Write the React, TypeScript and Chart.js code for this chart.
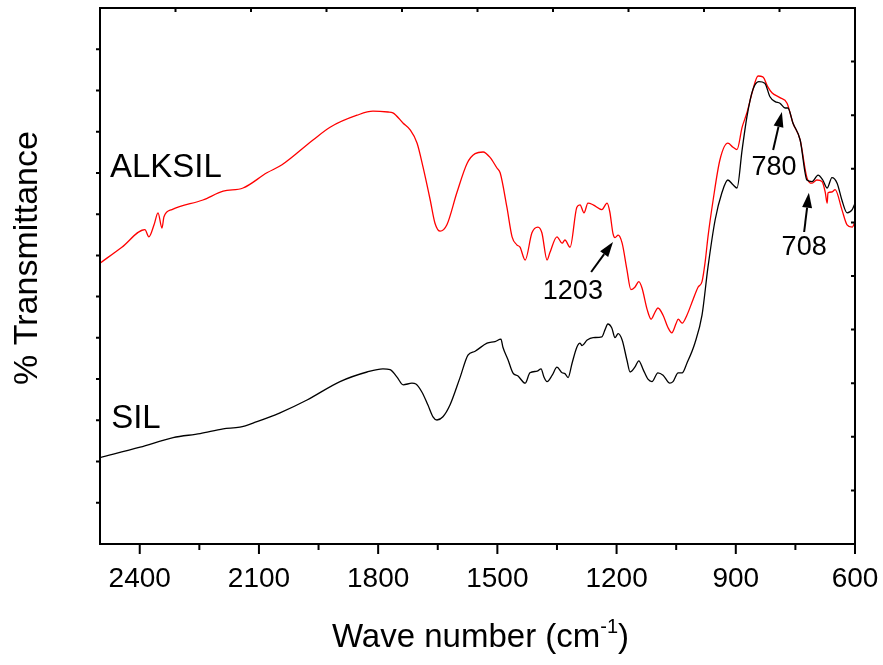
import React, { useEffect, useRef } from "react";
import { Chart, registerables } from "chart.js";

Chart.register(...registerables);

// ---- data (wave number in cm^-1, transmittance in arbitrary % units) ----
const wnAlksil = [2500, 2445, 2387, 2377, 2364, 2354, 2344, 2339, 2319, 2241, 2190, 2140, 2080, 2042, 1964, 1921, 1853, 1813, 1775, 1763, 1737, 1720, 1702, 1687, 1669, 1657, 1644, 1627, 1602, 1576, 1556, 1536, 1518, 1501, 1493, 1476, 1463, 1451, 1443, 1430, 1413, 1398, 1388, 1375, 1368, 1350, 1337, 1330, 1317, 1300, 1292, 1282, 1272, 1259, 1237, 1224, 1217, 1209, 1204, 1196, 1186, 1174, 1164, 1154, 1144, 1136, 1123, 1113, 1103, 1096, 1083, 1071, 1061, 1050, 1045, 1035, 1023, 1008, 995, 985, 977, 970, 957, 940, 920, 907, 897, 884, 872, 859, 844, 832, 819, 809, 789, 771, 756, 738, 721, 708, 696, 683, 675, 670, 668, 658, 650, 633, 620, 607, 600];
const tAlksil = [55.1, 57.1, 59.3, 58.4, 59.9, 61.4, 59.5, 60.9, 61.8, 63.0, 64.1, 64.5, 66.4, 67.4, 70.5, 72.1, 73.6, 74.1, 74.0, 73.9, 72.6, 71.8, 70.1, 67.1, 63.0, 60.1, 59.1, 59.9, 63.9, 67.6, 68.8, 69.0, 68.3, 67.0, 66.4, 62.1, 58.4, 57.4, 57.1, 55.5, 58.9, 59.6, 58.9, 55.5, 56.4, 58.4, 57.6, 58.0, 57.1, 62.1, 62.4, 61.4, 62.6, 62.4, 61.8, 62.6, 61.5, 58.8, 58.3, 58.6, 57.6, 54.3, 51.8, 52.1, 52.8, 52.0, 49.3, 48.1, 49.0, 49.5, 48.6, 47.1, 46.4, 47.6, 48.1, 47.6, 48.6, 50.5, 52.1, 52.8, 55.3, 58.4, 63.0, 68.0, 70.1, 69.6, 69.3, 72.1, 73.9, 76.4, 78.5, 78.4, 77.1, 76.4, 75.8, 75.1, 72.6, 70.5, 65.8, 65.1, 65.5, 65.3, 64.0, 62.6, 63.9, 64.0, 64.3, 61.8, 59.9, 59.6, 60.3];

const wnSil = [2500, 2399, 2316, 2248, 2190, 2148, 2105, 2047, 1979, 1896, 1828, 1788, 1770, 1753, 1737, 1715, 1705, 1690, 1675, 1662, 1652, 1637, 1619, 1594, 1574, 1556, 1526, 1506, 1491, 1486, 1473, 1461, 1448, 1430, 1418, 1400, 1390, 1383, 1375, 1362, 1350, 1337, 1330, 1322, 1312, 1300, 1292, 1287, 1274, 1259, 1237, 1229, 1222, 1212, 1204, 1196, 1186, 1174, 1166, 1154, 1144, 1133, 1121, 1111, 1096, 1083, 1066, 1058, 1045, 1035, 1023, 1003, 985, 970, 952, 935, 920, 907, 897, 884, 872, 857, 842, 827, 814, 801, 789, 776, 769, 756, 738, 721, 708, 693, 681, 670, 658, 645, 633, 620, 607, 600];
const tSil = [30.8, 32.1, 33.3, 33.8, 34.4, 34.6, 35.3, 36.4, 38.0, 40.3, 41.5, 41.9, 41.8, 40.9, 39.9, 40.1, 40.0, 39.0, 37.4, 35.9, 35.5, 35.9, 37.4, 40.8, 43.6, 44.1, 45.1, 45.3, 45.6, 44.6, 43.0, 41.4, 41.0, 40.1, 41.4, 41.6, 41.9, 40.9, 40.3, 41.1, 42.1, 41.4, 41.3, 40.8, 42.6, 44.6, 45.1, 44.8, 45.5, 45.8, 45.9, 46.8, 47.5, 47.0, 45.8, 46.3, 45.5, 43.0, 41.5, 42.1, 42.9, 41.8, 40.6, 40.3, 41.4, 41.1, 40.1, 40.3, 41.4, 41.4, 42.6, 45.1, 48.6, 54.6, 60.5, 63.9, 65.5, 64.9, 64.5, 69.3, 73.4, 76.8, 77.8, 77.6, 75.9, 75.3, 75.1, 74.5, 74.5, 72.6, 70.5, 65.5, 65.3, 66.1, 65.5, 64.5, 65.8, 65.1, 63.0, 61.4, 61.8, 62.6];

const xTickLabels = [2400, 2100, 1800, 1500, 1200, 900, 600];

// series name labels
const seriesNames = ["ALKSIL", "SIL"];
const seriesNameWn = [2475, 2472];
const seriesNameT = [67.0, 35.6];

// peak annotations with arrows
const peakLabels = ["1203", "780", "708"];
const peakLabelWn = [1310, 804, 728];
const peakLabelT = [51.6, 67.0, 57.0];
const arrowTailWn = [1264, 806, 728];
const arrowTailT = [54.0, 69.25, 59.0];
const arrowHeadWn = [1209, 784, 716];
const arrowHeadT = [57.75, 74.0, 63.9];

const FONT = '"Liberation Sans", Arial, sans-serif';

const decorPlugin = {
  id: "decor",
  afterDraw(chart: any) {
    const { ctx, chartArea: a, scales } = chart;
    const x = scales.x;
    const y = scales.y;
    ctx.save();
    // frame
    ctx.strokeStyle = "#000";
    ctx.lineWidth = 2;
    ctx.strokeRect(a.left, a.top, a.right - a.left, a.bottom - a.top);
    // ticks
    ctx.beginPath();
    for (const t of x.ticks) {
      const px = x.getPixelForValue(t.value);
      const len = xTickLabels.includes(t.value) ? 10 : 6;
      ctx.moveTo(px, a.bottom);
      ctx.lineTo(px, a.bottom + len);
    }
    for (let i = 1; i < 13; i++) {
      const py = y.getPixelForValue(y.min + (i * (y.max - y.min)) / 13);
      ctx.moveTo(a.left, py);
      ctx.lineTo(a.left - 4, py);
    }
    for (let i = 1; i < 10; i++) {
      const py = y.getPixelForValue(y.min + (i * (y.max - y.min)) / 10);
      ctx.moveTo(a.right, py);
      ctx.lineTo(a.right - 4, py);
    }
    for (let i = 1; i < 10; i++) {
      const px = a.left + (i * (a.right - a.left)) / 10;
      ctx.moveTo(px, a.top);
      ctx.lineTo(px, a.top + 4);
    }
    ctx.stroke();

    // series names
    ctx.fillStyle = "#000";
    ctx.font = `33px ${FONT}`;
    ctx.textAlign = "left";
    ctx.textBaseline = "middle";
    seriesNames.forEach((s, i) => {
      ctx.fillText(s, x.getPixelForValue(seriesNameWn[i]), y.getPixelForValue(seriesNameT[i]));
    });

    // peak labels
    ctx.font = `27px ${FONT}`;
    ctx.textAlign = "center";
    peakLabels.forEach((s, i) => {
      ctx.fillText(s, x.getPixelForValue(peakLabelWn[i]), y.getPixelForValue(peakLabelT[i]));
    });

    // arrows
    peakLabels.forEach((_, i) => {
      const tx = x.getPixelForValue(arrowTailWn[i]);
      const ty = y.getPixelForValue(arrowTailT[i]);
      const hx = x.getPixelForValue(arrowHeadWn[i]);
      const hy = y.getPixelForValue(arrowHeadT[i]);
      const ang = Math.atan2(hy - ty, hx - tx);
      const hl = 15;
      const hw = 5;
      const bx = hx - hl * Math.cos(ang);
      const by = hy - hl * Math.sin(ang);
      ctx.lineWidth = 2;
      ctx.beginPath();
      ctx.moveTo(tx, ty);
      ctx.lineTo(bx, by);
      ctx.stroke();
      ctx.beginPath();
      ctx.moveTo(hx, hy);
      ctx.lineTo(bx + hw * Math.sin(ang), by - hw * Math.cos(ang));
      ctx.lineTo(bx - hw * Math.sin(ang), by + hw * Math.cos(ang));
      ctx.closePath();
      ctx.fill();
    });

    // y title
    ctx.save();
    ctx.translate(28, 258);
    ctx.rotate(-Math.PI / 2);
    ctx.font = `34px ${FONT}`;
    ctx.textAlign = "center";
    ctx.textBaseline = "middle";
    ctx.fillText("% Transmittance", 0, 0);
    ctx.restore();

    // x title with superscript
    const cx = (a.left + a.right) / 2 + 3;
    const base = 647;
    ctx.textBaseline = "alphabetic";
    ctx.textAlign = "left";
    ctx.font = `33px ${FONT}`;
    const p1 = "Wave number (cm";
    const p3 = ")";
    const w1 = ctx.measureText(p1).width;
    const w3 = ctx.measureText(p3).width;
    ctx.font = `20px ${FONT}`;
    const p2 = "-1";
    const w2 = ctx.measureText(p2).width;
    let sx = cx - (w1 + w2 + w3) / 2;
    ctx.font = `33px ${FONT}`;
    ctx.fillText(p1, sx, base);
    sx += w1;
    ctx.font = `20px ${FONT}`;
    ctx.fillText(p2, sx, base - 14);
    sx += w2;
    ctx.font = `33px ${FONT}`;
    ctx.fillText(p3, sx, base);
    ctx.restore();
  },
};

export default function App() {
  const ref = useRef<HTMLCanvasElement>(null);
  useEffect(() => {
    const chart = new Chart(ref.current as HTMLCanvasElement, {
      type: "line",
      data: {
        datasets: [
          {
            label: "SIL",
            data: wnSil.map((w, i) => ({ x: w, y: tSil[i] })),
            borderColor: "#000000",
            borderWidth: 1.3,
            pointRadius: 0,
            cubicInterpolationMode: "monotone",
            fill: false,
          },
          {
            label: "ALKSIL",
            data: wnAlksil.map((w, i) => ({ x: w, y: tAlksil[i] })),
            borderColor: "#ff0000",
            borderWidth: 1.3,
            pointRadius: 0,
            cubicInterpolationMode: "monotone",
            fill: false,
          },
        ],
      },
      options: {
        animation: false,
        responsive: false,
        devicePixelRatio: 1,
        layout: { padding: { top: 8, right: 28, left: 0, bottom: 0 } },
        plugins: { legend: { display: false }, tooltip: { enabled: false } },
        scales: {
          x: {
            type: "linear",
            reverse: true,
            min: 600,
            max: 2500,
            grid: { display: false, drawTicks: false },
            border: { display: false },
            ticks: {
              stepSize: 150,
              includeBounds: false,
              autoSkip: false,
              maxRotation: 0,
              padding: 18,
              color: "#000",
              font: { family: FONT, size: 28 },
              callback: (v: any) => (xTickLabels.includes(Number(v)) ? String(v) : ""),
            },
            afterFit: (s: any) => {
              s.height = 121;
              s.paddingLeft = 0;
              s.paddingRight = 0;
              s.paddingTop = 0;
              s.paddingBottom = 0;
            },
          },
          y: {
            type: "linear",
            min: 20,
            max: 87,
            grid: { display: false, drawTicks: false },
            border: { display: false },
            ticks: { display: false },
            afterFit: (s: any) => {
              s.width = 100;
              s.paddingTop = 0;
              s.paddingBottom = 0;
            },
          },
        },
      },
      plugins: [decorPlugin],
    });
    return () => chart.destroy();
  }, []);
  return (
    <div style={{ position: "absolute", left: 0, top: 0, width: 883, height: 665, background: "#fff" }}>
      <canvas ref={ref} width={883} height={665} style={{ display: "block", width: 883, height: 665 }} />
    </div>
  );
}
